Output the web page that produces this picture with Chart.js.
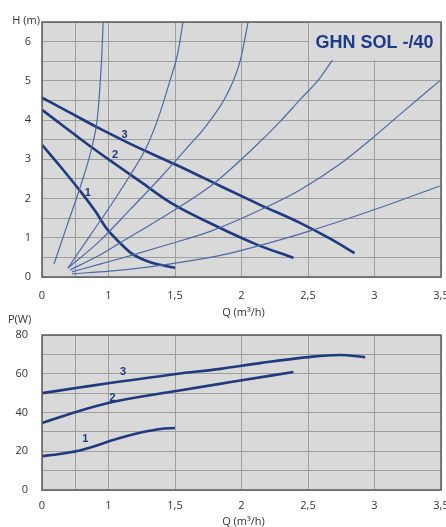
<!DOCTYPE html>
<html>
<head>
<meta charset="utf-8">
<script src="https://cdn.jsdelivr.net/npm/chart.js@4.4.1/dist/chart.umd.min.js"></script>
<style>
  html, body { margin: 0; padding: 0; background: #fff; }
  #wrap { position: relative; width: 446px; height: 527px; overflow: hidden; }
  #head { position: absolute; left: 0; top: 0; }
  #power { position: absolute; left: 0; top: 312px; }
</style>
</head>
<body>
<div id="wrap">
  <canvas id="head" width="446" height="320"></canvas>
  <canvas id="power" width="446" height="215"></canvas>
</div>
<script>
// flow axis ticks (m3/h) and the labels printed under them
const qTicks = [0, 0.5, 1, 1.5, 2, 2.5, 3, 3.5];
const qTickLabels = ['0', '', '1', '1,5', '2', '2,5', '3', '3,5'];
const curveNames = ['1', '2', '3'];

// pump curves, head H (m) vs Q
const h1Q = [0, 0.27, 0.57, 0.80, 0.97, 1.08, 1.17, 1.31, 1.43, 1.5];
const h1H = [3.37, 2.83, 2.20, 1.68, 1.24, 0.89, 0.61, 0.38, 0.28, 0.23];
const h2Q = [0, 0.36, 0.72, 1.05, 1.24, 1.46, 1.82, 2.12, 2.39];
const h2H = [4.26, 3.80, 3.34, 2.88, 2.43, 1.91, 1.28, 0.82, 0.49];
const h3Q = [0, 0.42, 0.87, 1.16, 1.39, 1.54, 1.84, 2.14, 2.44, 2.67, 2.85];
const h3H = [4.57, 4.19, 3.78, 3.40, 3.04, 2.81, 2.32, 1.84, 1.38, 0.97, 0.61];

// system curves (thin lines)
const sysAQ = [0.18, 0.38, 0.59, 0.74, 0.83, 0.87, 0.90, 0.92];
const sysAH = [0.33, 1.33, 2.37, 3.24, 4.01, 4.82, 5.67, 6.5];
const sysBQ = [0.39, 0.72, 1.01, 1.16, 1.29, 1.39, 1.46, 1.52, 1.56];
const sysBH = [0.23, 1.05, 1.79, 2.58, 3.34, 4.21, 4.98, 5.69, 6.5];
const sysCQ = [0.39, 0.87, 1.16, 1.39, 1.59, 1.74, 1.89, 1.99, 2.05];
const sysCH = [0.23, 0.92, 1.71, 2.53, 3.29, 3.88, 4.65, 5.51, 6.5];
const sysDQ = [0.42, 0.87, 1.16, 1.46, 1.78, 2.10, 2.29, 2.44, 2.58, 2.68, 2.78];
const sysDH = [0.18, 0.56, 1.02, 1.63, 2.35, 3.32, 3.96, 4.52, 5.03, 5.51, 5.97];
const sysEQ = [0.45, 0.87, 1.16, 1.46, 1.77, 2.16, 2.44, 2.74, 2.97, 3.19, 3.49];
const sysEH = [0.13, 0.33, 0.54, 0.84, 1.17, 1.74, 2.22, 2.88, 3.50, 4.14, 5.0];
const sysFQ = [0.45, 1.01, 1.31, 1.61, 1.92, 2.21, 2.51, 2.82, 3.12, 3.49];
const sysFH = [0.08, 0.15, 0.26, 0.41, 0.61, 0.87, 1.17, 1.51, 1.86, 2.32];

// power input P (W) vs Q
const p1Q = [0, 0.27, 0.53, 0.80, 1.01, 1.14, 1.26, 1.39, 1.5];
const p1P = [17.5, 18.6, 20.1, 22.7, 25.3, 27.9, 29.9, 31.5, 32.0];
const p2Q = [0, 0.51, 1.03, 1.51, 1.92, 2.39];
const p2P = [34.6, 40.3, 45.4, 51.1, 55.7, 60.9];
const p3Q = [0, 0.51, 1.01, 1.51, 1.84, 2.14, 2.5, 2.74, 2.93];
const p3P = [50, 52.6, 55.2, 59.9, 62.5, 65.5, 68.6, 69.7, 68.6];

// where the curve numbers sit
const headLabelQ = [0.69, 1.05, 1.12];
const headLabelH = [2.14, 3.11, 3.63];
const powerLabelQ = [0.65, 1.03, 1.11];
const powerLabelP = [26.3, 47.5, 60.9];

// the original drawing squeezes 0..1 into the width of one half step
function qToAxis(q) { return q <= 1 ? q : 1 + (q - 1) * 2; }

function pts(qs, vs) { return qs.map((q, i) => ({ x: qToAxis(q), y: vs[i] })); }

const PUMP = '#1f3a7e';
const SYS = '#4d6aa6';
const BG = '#d9d9d9';

function pumpSet(qs, vs) {
  return { data: pts(qs, vs), borderColor: PUMP, borderWidth: 2.6, pointRadius: 0, cubicInterpolationMode: 'monotone', fill: false };
}
function sysSet(qs, vs) {
  return { data: pts(qs, vs), borderColor: SYS, borderWidth: 1.2, pointRadius: 0, cubicInterpolationMode: 'monotone', fill: false };
}

const paper = {
  id: 'paper',
  beforeDraw(chart) {
    const { ctx, chartArea: a } = chart;
    ctx.save();
    ctx.fillStyle = BG;
    ctx.fillRect(a.left, a.top, a.width, a.height);
    ctx.restore();
  },
  afterDatasetsDraw(chart, args, o) {
    const { ctx, chartArea: a, scales: { x, y } } = chart;
    ctx.save();
    if (o.badge) {
      const bx = x.getPixelForValue(qToAxis(o.badge.q));
      const by = y.getPixelForValue(o.badge.h);
      ctx.fillStyle = BG;
      ctx.fillRect(bx + 1, a.top, a.right - bx - 1, by - a.top - 1);
      ctx.fillStyle = '#1e3a8c';
      ctx.font = 'bold 18px "Liberation Sans", Arial, sans-serif';
      ctx.textAlign = 'center';
      ctx.textBaseline = 'middle';
      ctx.fillText(o.badge.text, (bx + a.right) / 2, (a.top + by) / 2 + 1);
    }
    ctx.fillStyle = PUMP;
    ctx.font = 'bold 11px "Liberation Sans", Arial, sans-serif';
    ctx.textAlign = 'center';
    ctx.textBaseline = 'middle';
    o.labelQ.forEach((q, i) => {
      ctx.fillText(curveNames[i], x.getPixelForValue(qToAxis(q)), y.getPixelForValue(o.labelV[i]));
    });
    ctx.strokeStyle = '#5c5c5c';
    ctx.lineWidth = 1.5;
    ctx.strokeRect(a.left, a.top, a.width, a.height);
    ctx.fillStyle = '#333';
    ctx.font = '11px "Open Sans", sans-serif';
    ctx.fillText(o.xTitle, (a.left + a.right) / 2 + 2, a.bottom + o.xTitleGap);
    ctx.textAlign = o.yTitleAlign;
    ctx.fillText(o.yTitle, o.yTitleAlign === 'right' ? a.left - 2 : 8, a.top + o.yTitleGap);
    ctx.restore();
  }
};

function makeChart(id, sets, yMax, yStep, yLabel, plotTop, plotBottom, pad, extra) {
  const canvas = document.getElementById(id);
  const tickFont = { family: '"Open Sans", sans-serif', size: 11 };
  return new Chart(canvas, {
    type: 'line',
    data: { datasets: sets },
    options: {
      responsive: false,
      animation: false,
      layout: { padding: { top: plotTop, right: 5, left: 0, bottom: 0 } },
      plugins: { legend: { display: false }, tooltip: { enabled: false }, paper: extra },
      scales: {
        x: {
          type: 'linear', min: 0, max: qToAxis(3.5),
          afterBuildTicks: s => { s.ticks = qTicks.map(q => ({ value: qToAxis(q) })); },
          afterFit: s => { s.height = canvas.height - plotBottom; s.paddingLeft = 0; s.paddingRight = 0; },
          grid: { color: '#9e9e9e', lineWidth: 1, drawTicks: false },
          border: { display: false },
          ticks: { autoSkip: false, maxRotation: 0, padding: pad.x, color: '#333', font: tickFont,
                   callback: (v, i) => qTickLabels[i] }
        },
        y: {
          min: 0, max: yMax,
          afterFit: s => { s.width = 42; s.paddingTop = 0; s.paddingBottom = 0; },
          grid: { color: '#9e9e9e', lineWidth: 1, drawTicks: false },
          border: { display: false },
          ticks: { stepSize: yStep, autoSkip: false, padding: pad.y, color: '#333', font: tickFont,
                   callback: yLabel }
        }
      }
    },
    plugins: [paper]
  });
}

makeChart('head', [
  sysSet(sysAQ, sysAH), sysSet(sysBQ, sysBH), sysSet(sysCQ, sysCH),
  sysSet(sysDQ, sysDH), sysSet(sysEQ, sysEH), sysSet(sysFQ, sysFH),
  pumpSet(h1Q, h1H), pumpSet(h2Q, h2H), pumpSet(h3Q, h3H)
], 6.5, 0.5, v => Number.isInteger(v) ? String(v) : '', 22, 277, { x: 12, y: 11 }, {
  badge: { q: 2.5, h: 5.5, text: 'GHN SOL -/40' },
  labelQ: headLabelQ, labelV: headLabelH,
  xTitle: 'Q (m³/h)', xTitleGap: 36,
  yTitle: 'H (m)', yTitleAlign: 'right', yTitleGap: -1
});

makeChart('power', [
  pumpSet(p1Q, p1P), pumpSet(p2Q, p2P), pumpSet(p3Q, p3P)
], 80, 10, v => v % 20 === 0 ? String(v) : '', 23, 178, { x: 9, y: 14 }, {
  labelQ: powerLabelQ, labelV: powerLabelP,
  xTitle: 'Q (m³/h)', xTitleGap: 32,
  yTitle: 'P(W)', yTitleAlign: 'left', yTitleGap: -15
});
</script>
</body>
</html>
